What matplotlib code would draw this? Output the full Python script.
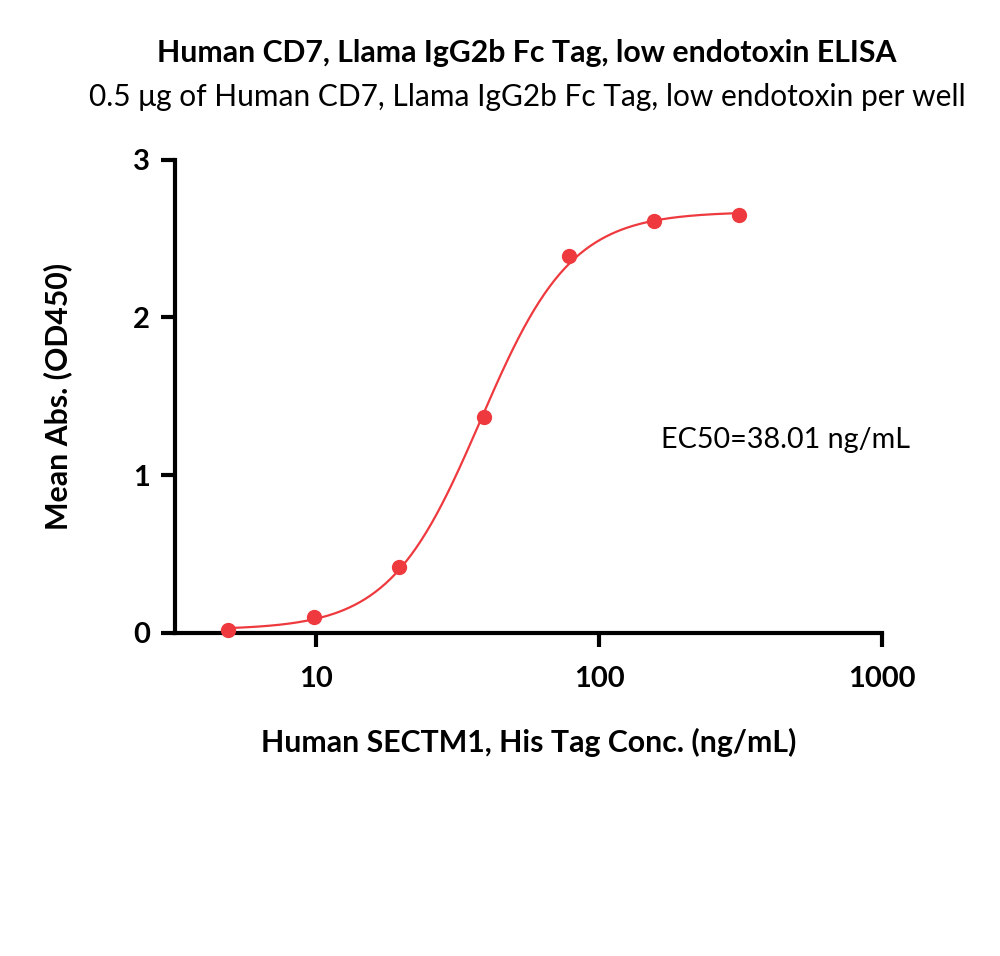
#ELISA binding curve: Human CD7 vs Human SECTM1

import numpy as np
from matplotlib import pyplot as plt

plt.rcParams['font.family'] = ['Lato', 'DejaVu Sans']

# Measured points
conc = [4.88, 9.77, 19.53, 39.06, 78.125, 156.25, 312.5]
od450 = [0.02, 0.10, 0.42, 1.37, 2.39, 2.61, 2.65]

# 4PL fit parameters
bottom, top, ec50, hill = 0.02, 2.67, 38.01, 2.7

xfit = np.logspace(np.log10(conc[0]), np.log10(conc[-1]), 300)
yfit = bottom + (top - bottom) / (1 + (ec50 / xfit) ** hill)

red = '#ee3a3f'

fig = plt.figure(figsize=(10, 9.56), dpi=100)
ax = fig.add_axes([0.175, 0.338, 0.707, 0.495])
ax.plot(xfit, yfit, color=red, lw=1.6, zorder=2)
ax.plot(conc, od450, 'o', color=red, ms=10, zorder=3, clip_on=False)

ax.set_xscale('log')
ax.set_xlim(10 ** 0.5, 1000)
ax.set_ylim(0, 3)
ax.set_xticks([10, 100, 1000])
ax.set_xticklabels(['10', '100', '1000'])
ax.set_yticks([0, 1, 2, 3])
ax.minorticks_off()

for s in ['top', 'right']:
    ax.spines[s].set_visible(False)
for s in ['left', 'bottom']:
    ax.spines[s].set_linewidth(3)
ax.tick_params(width=3, length=10, labelsize=21, pad=8)
ax.tick_params(axis='x', pad=14)
for lbl in ax.get_xticklabels() + ax.get_yticklabels():
    lbl.set_fontweight('bold')

ax.set_xlabel('Human SECTM1, His Tag Conc. (ng/mL)', fontsize=21.8, fontweight='bold', labelpad=26)
ax.set_ylabel('Mean Abs. (OD450)', fontsize=21.8, fontweight='bold', labelpad=44)

ax.text(166, 1.22, 'EC50=38.01 ng/mL', fontsize=20.7, va='center', ha='left')

fig.text(0.527, 0.945, 'Human CD7, Llama IgG2b Fc Tag, low endotoxin ELISA',
         ha='center', va='center', fontsize=21.8, fontweight='bold')
fig.text(0.527, 0.899, '0.5 \u03bcg of Human CD7, Llama IgG2b Fc Tag, low endotoxin per well',
         ha='center', va='center', fontsize=21.5)

plt.savefig('out.png', dpi=100)
